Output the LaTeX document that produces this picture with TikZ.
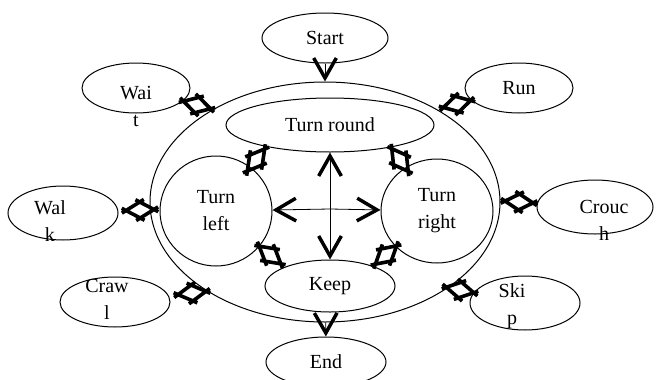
\documentclass[tikz,border=0pt]{standalone}
\usepackage{fontspec}
\setmainfont{Liberation Serif}
\usetikzlibrary{shapes.geometric, arrows.meta}
\begin{document}
\begin{tikzpicture}[x=0.75pt, y=-0.75pt,
  ell/.style={draw, ellipse, line width=0.75pt, inner sep=0pt, font=\fontsize{15}{20.25}\selectfont, align=center},
  sz/.style 2 args={minimum width=#1*0.75pt, minimum height=#2*0.75pt},
  lbl/.style={font=\fontsize{15}{20.25}\selectfont, align=center, inner sep=0pt},
  varrow/.style={line width=0.6pt, -{Straight Barb[length=15pt, width=17pt, line width=2.6pt]}},
  glyph/.pic={
    \draw[line width=2.7pt] (-18.2,2.4) -- (4.2,-10.4)
      (-4.2,-10.4) -- (18.2,2.4)
      (18.2,-2.4) -- (-4.2,10.4)
      (4.2,10.4) -- (-18.2,-2.4);
  }
]
\useasboundingbox (0,0) rectangle (661,379);

\node[ell, sz={350}{240}] (big) at (325,202) {};
\node[ell, sz={126}{50}] (start) at (325,38) {\raisebox{-4pt}{Start}};
\node[ell, sz={120}{50}] (end) at (326,362) {End};
\node[ell, sz={108}{50}] (run) at (519,88) {\raisebox{-4pt}{Run}};
\node[ell, sz={208}{54}] (round) at (330,125) {Turn round};
\node[ell, sz={112}{110}] (left) at (216,211) {Turn\\left};
\node[ell, sz={112}{104}] (right) at (437,211) {Turn\\right};
\node[ell, sz={130}{52}] (keep) at (330,286) {Keep};

\node[ell, sz={108}{50}] (wait) at (136,88) {};
\node[lbl] (waitt) at (136,106) {Wai\\t};
\node[ell, sz={110}{54}] (walk) at (63,213) {};
\node[lbl] (walkt) at (50,221) {Wal\\k};
\node[ell, sz={116}{54}] (crouch) at (595,207) {};
\node[lbl] (croucht) at (604,220) {Crouc\\h};
\node[ell, sz={110}{50}] (crawl) at (115,302) {};
\node[lbl] (crawlt) at (107,299) {Craw\\l};
\node[ell, sz={110}{54}] (skip) at (525,303) {};
\node[lbl] (skipt) at (512,306) {Ski\\p};

\draw[varrow] (start) -- (big);
\draw[varrow] (big) -- (end);

\coordinate (c) at (330,209);
\draw[varrow] (c) -- (left);
\draw[varrow] (c) -- (right);
\draw[varrow] (c) -- (round);
\draw[varrow] (c) -- (keep);

\coordinate (g1) at (197,105);
\coordinate (g2) at (256,160);
\coordinate (g3) at (457,104);
\coordinate (g4) at (400,160);
\coordinate (g5) at (140,210);
\coordinate (g6) at (519,202);
\coordinate (g7) at (192,293);
\coordinate (g8) at (460,290);
\coordinate (g9) at (270,255);
\coordinate (g10) at (386,255);

\path (wait.center) -- (g1) pic[pos=1, sloped] {glyph};
\path (left.center) -- (g2) pic[pos=1, sloped] {glyph};
\path (run.center) -- (g3) pic[pos=1, sloped] {glyph};
\path (right.center) -- (g4) pic[pos=1, sloped] {glyph};
\path (walk.center) -- (g5) pic[pos=1, sloped] {glyph};
\path (crouch.center) -- (g6) pic[pos=1, sloped] {glyph};
\path (crawl.center) -- (g7) pic[pos=1, sloped] {glyph};
\path (skip.center) -- (g8) pic[pos=1, sloped] {glyph};
\path (left.center) -- (g9) pic[pos=1, sloped] {glyph};
\path (right.center) -- (g10) pic[pos=1, sloped] {glyph};
\end{tikzpicture}
\end{document}
